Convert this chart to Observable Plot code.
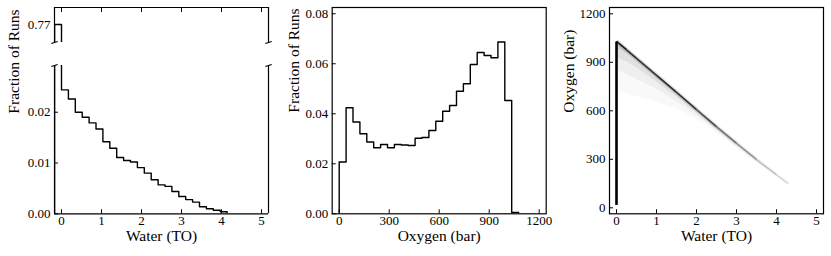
<!DOCTYPE html>
<html><head><meta charset="utf-8">
<script src="https://cdn.jsdelivr.net/npm/d3@7"></script>
<script src="https://cdn.jsdelivr.net/npm/@observablehq/plot@0.6"></script>
<style>
body{margin:0;background:#fff;}
#wrap{position:relative;width:831px;height:256px;font-family:"Liberation Serif", serif;}
</style></head><body><div id="wrap"></div>
<script>
// ---------- Panel 1: Water (TO) histogram (broken y axis) ----------
const waterEdges = [-0.1725, 0, 0.1725, 0.345, 0.5175, 0.69, 0.8625, 1.035, 1.2075, 1.38, 1.5525, 1.725, 1.8975, 2.07, 2.2425, 2.415, 2.5875, 2.76, 2.9325, 3.105, 3.2775, 3.45, 3.6225, 3.795, 3.9675, 4.14];
const waterFrac = [0.77, 0.0244, 0.0226, 0.0200, 0.0190, 0.0179, 0.0167, 0.0142, 0.0129, 0.0111, 0.0105, 0.0102, 0.0091, 0.0080, 0.0067, 0.0057, 0.0054, 0.0044, 0.0034, 0.0028, 0.0023, 0.0014, 0.0010, 0.0007, 0.0004];
const waterTicks = [0, 1, 2, 3, 4, 5];
const fracTicksLower = [0, 0.01, 0.02];
const fracTicksUpper = [0.77];

// ---------- Panel 2: Oxygen (bar) histogram ----------
const oxygenEdges = [0, 41.4, 82.8, 124.2, 165.6, 207, 248.4, 289.8, 331.2, 372.6, 414, 455.4, 496.8, 538.2, 579.6, 621, 662.4, 703.8, 745.2, 786.6, 828, 869.4, 910.8, 952.2, 993.6, 1035, 1076.4];
const oxygenFrac = [0.0207, 0.0424, 0.0367, 0.0320, 0.0287, 0.0264, 0.0277, 0.0264, 0.0277, 0.0275, 0.0273, 0.0302, 0.0305, 0.0333, 0.0370, 0.0410, 0.0433, 0.0490, 0.0520, 0.0597, 0.0645, 0.0633, 0.0624, 0.0687, 0.0453, 0.0005];
const oxygenTicks = [0, 300, 600, 900, 1200];
const fracTicks2 = [0, 0.02, 0.04, 0.06, 0.08];

// ---------- Panel 3: Water vs Oxygen density ----------
const zeroWaterO2 = [15, 1025];               // dense column of runs at water = 0
const ridgeWater = [0, 0.25, 0.5, 1, 1.5, 2, 2.5, 3, 3.5, 4, 4.3];
const ridgeO2    = [1030, 978, 925, 820, 715, 608, 502, 400, 300, 205, 150];
const ridgeShade = [0.9, 0.85, 0.8, 0.85, 0.8, 0.65, 0.45, 0.3, 0.16, 0.07];
const cloudO2Bands = [
  [985, 955, 908, 806, 706, 601, 497, 395, 296, 202, 148],
  [930, 905, 868, 778, 686, 588, 488, 388, 292, 199, 146],
  [850, 828, 795, 735, 658, 573, 477, 381, 286, 196, 144],
  [730, 705, 685, 655, 612, 552, 463, 371, 280, 192, 142]
];
const cloudShade = [0.08, 0.06, 0.04, 0.025];

const FONT = "Liberation Serif";
const wrap = document.getElementById("wrap");

function stepPoints(edges, vals) {
  const pts = [{x: edges[0], y: 0}];
  vals.forEach((v, i) => pts.push({x: edges[i], y: v}));
  pts.push({x: edges[vals.length], y: 0});
  return pts;
}
const blank = () => "";
function inwardX(ticks, anchor = "bottom") {
  return Plot.axisX({anchor, ticks, tickSize: 4, dy: anchor === "bottom" ? -4 : 4, tickFormat: blank, label: null, strokeWidth: 1});
}
function inwardY(ticks) {
  return Plot.axisY({ticks, tickSize: 4, dx: 4, tickFormat: blank, label: null, strokeWidth: 1});
}
function labelsX(ticks, fmt) {
  return Plot.axisX({ticks, tickSize: 0, tickPadding: 1.5, tickFormat: fmt, label: null, fontSize: 13, fontFamily: FONT});
}
function labelsY(ticks, fmt) {
  return Plot.axisY({ticks, tickSize: 0, tickPadding: 4, tickFormat: fmt, label: null, fontSize: 13, fontFamily: FONT});
}
function xTitle(t) {
  return Plot.text([t], {text: d => d, frameAnchor: "bottom", dy: 27.5, fontSize: 15.5, fontFamily: FONT});
}
function yTitle(t, dx, dy = 0) {
  return Plot.text([t], {text: d => d, frameAnchor: "left", rotate: -90, dx, dy, fontSize: 15.5, fontFamily: FONT});
}
const breakSymbol = {draw(ctx) { ctx.moveTo(-3.2, 1); ctx.lineTo(3.2, -1); }};

function place(svg, left, top) {
  svg.style.position = "absolute";
  svg.style.left = left + "px";
  svg.style.top = top + "px";
  svg.style.overflow = "visible";
  svg.style.background = "transparent";
  svg.setAttribute("font-family", FONT);
  svg.style.fontFamily = "'Liberation Serif', serif";
  wrap.appendChild(svg);
}

const xDomW = [-0.175, 5.175];
const upperDom = [0.7664, 0.7734];
const lowerDom = [0, 0.0292];
const waterSteps = stepPoints(waterEdges, waterFrac);

// Panel 1 upper
place(Plot.plot({
  width: 280, height: 50, marginLeft: 54, marginRight: 12, marginTop: 7, marginBottom: 8,
  x: {domain: xDomW}, y: {domain: upperDom},
  marks: [
    Plot.line(waterSteps, {x: "x", y: "y", curve: "step-after", stroke: "black", strokeWidth: 1.4, clip: true}),
    Plot.ruleY([upperDom[1]], {stroke: "black", strokeWidth: 1.2}),
    Plot.ruleX(xDomW, {stroke: "black", strokeWidth: 1.2}),
    Plot.dot(xDomW.map(x => ({x, y: upperDom[0]})), {x: "x", y: "y", symbol: breakSymbol, stroke: "black", strokeWidth: 1.2, fill: "none"}),
    inwardX(waterTicks, "top"),
    inwardY(fracTicksUpper),
    labelsY(fracTicksUpper, d3.format(".2f"))
  ]
}), 0, 0);

// Panel 1 lower
place(Plot.plot({
  width: 280, height: 206, marginLeft: 54, marginRight: 12, marginTop: 15, marginBottom: 42.7,
  x: {domain: xDomW}, y: {domain: lowerDom},
  marks: [
    Plot.line(waterSteps, {x: "x", y: "y", curve: "step-after", stroke: "black", strokeWidth: 1.4, clip: true}),
    Plot.ruleY([lowerDom[0]], {stroke: "black", strokeWidth: 1.2}),
    Plot.ruleX(xDomW, {stroke: "black", strokeWidth: 1.2}),
    Plot.dot(xDomW.map(x => ({x, y: lowerDom[1]})), {x: "x", y: "y", symbol: breakSymbol, stroke: "black", strokeWidth: 1.2, fill: "none"}),
    inwardX(waterTicks), inwardY(fracTicksLower),
    labelsX(waterTicks, d3.format("d")), labelsY(fracTicksLower, d3.format(".2f")),
    xTitle("Water (TO)"), yTitle("Fraction of Runs", -40, -26)
  ]
}), 0, 50);

// Panel 2
const xDomO = [-42, 1242];
place(Plot.plot({
  width: 275, height: 256, marginLeft: 51.7, marginRight: 9.3, marginTop: 7, marginBottom: 42.7,
  x: {domain: xDomO}, y: {domain: [0, 0.0825]},
  marks: [
    Plot.line(stepPoints(oxygenEdges, oxygenFrac), {x: "x", y: "y", curve: "step-after", stroke: "black", strokeWidth: 1.4, clip: true}),
    Plot.frame({stroke: "black", strokeWidth: 1.2}),
    inwardX(oxygenTicks), inwardY(fracTicks2),
    labelsX(oxygenTicks, d3.format("d")), labelsY(fracTicks2, d3.format(".2f")),
    xTitle("Oxygen (bar)"), yTitle("Fraction of Runs", -38, 2)
  ]
}), 280, 0);

// Panel 3
const ridgeSegs = ridgeShade.map((s, i) => ({x1: ridgeWater[i], y1: ridgeO2[i], x2: ridgeWater[i + 1], y2: ridgeO2[i + 1], s}));
const cloudMarks = cloudO2Bands.map((band, k) =>
  Plot.areaY(ridgeWater.map((w, i) => ({w, lo: band[i], o: ridgeO2[i]})),
    {x: "w", y1: "lo", y2: "o", fill: "black", fillOpacity: cloudShade[k], curve: "basis"}));
place(Plot.plot({
  width: 276, height: 256, marginLeft: 54, marginRight: 8, marginTop: 7, marginBottom: 42.7,
  x: {domain: xDomW}, y: {domain: [-37, 1239]},
  marks: [
    ...cloudMarks,
    Plot.link(ridgeSegs, {x1: "x1", y1: "y1", x2: "x2", y2: "y2", stroke: "black", strokeOpacity: d => d.s * 0.2, strokeWidth: 4}),
    Plot.link(ridgeSegs, {x1: "x1", y1: "y1", x2: "x2", y2: "y2", stroke: "black", strokeOpacity: d => d.s, strokeWidth: 1.5}),
    Plot.ruleX([0], {y1: zeroWaterO2[0], y2: zeroWaterO2[1], stroke: "black", strokeWidth: 2.6}),
    Plot.frame({stroke: "black", strokeWidth: 1.2}),
    inwardX(waterTicks), inwardY(oxygenTicks),
    labelsX(waterTicks, d3.format("d")), labelsY(oxygenTicks, d3.format("d")),
    xTitle("Water (TO)"), yTitle("Oxygen (bar)", -40, 2)
  ]
}), 555, 0);
</script></body></html>
